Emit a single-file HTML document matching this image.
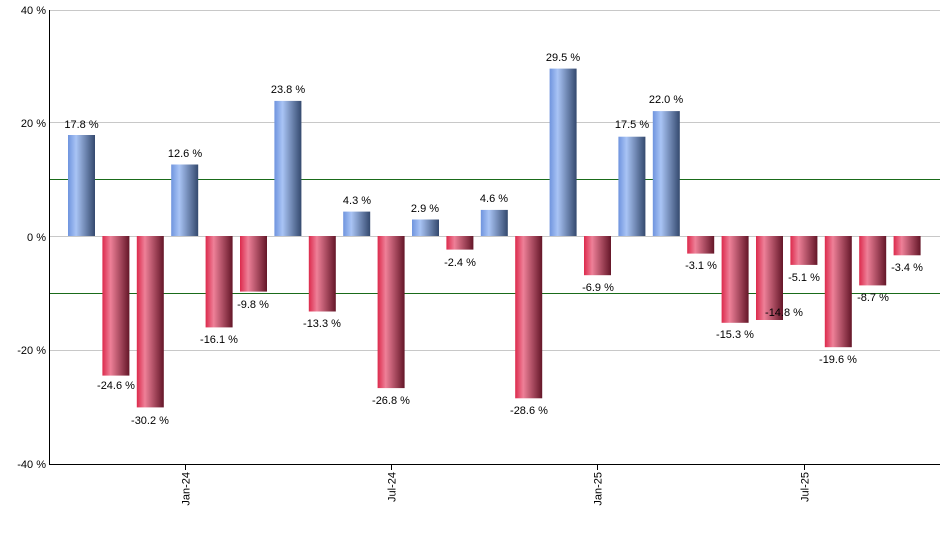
<!DOCTYPE html>
<html><head><meta charset="utf-8"><style>body{margin:0;background:#fff}svg{display:block}text{font-family:"Liberation Sans",sans-serif;font-size:11px;fill:#000}</style></head><body>
<svg width="940" height="550" xmlns="http://www.w3.org/2000/svg">
<defs>
<linearGradient id="b" x1="0" x2="1"><stop offset="0" stop-color="#6f94de"/><stop offset="0.3" stop-color="#a9c4f5"/><stop offset="1" stop-color="#34496e"/></linearGradient>
<linearGradient id="r" x1="0" x2="1"><stop offset="0" stop-color="#dc2a4c"/><stop offset="0.3" stop-color="#ee8098"/><stop offset="1" stop-color="#641628"/></linearGradient>
</defs>
<g stroke="#c8c8c8" stroke-width="1">
<line x1="50" x2="940" y1="10.5" y2="10.5"/><line x1="50" x2="940" y1="122.5" y2="122.5"/><line x1="50" x2="940" y1="236.5" y2="236.5"/><line x1="50" x2="940" y1="350.5" y2="350.5"/>
</g>
<g stroke="#1a6b1a" stroke-width="1"><line x1="50" x2="940" y1="179.5" y2="179.5"/><line x1="50" x2="940" y1="293.5" y2="293.5"/></g>
<g fill="url(#b)">
<rect x="68" y="135" width="27" height="101"/>
<rect x="171.2" y="164.5" width="27" height="71.5"/>
<rect x="274.4" y="100.9" width="27" height="135.1"/>
<rect x="343.2" y="211.6" width="27" height="24.4"/>
<rect x="412" y="219.5" width="27" height="16.5"/>
<rect x="480.8" y="209.9" width="27" height="26.1"/>
<rect x="549.6" y="68.6" width="27" height="167.4"/>
<rect x="618.4" y="136.7" width="27" height="99.3"/>
<rect x="652.8" y="111.1" width="27" height="124.9"/>
</g>
<g fill="url(#r)">
<rect x="102.4" y="236" width="27" height="139.6"/>
<rect x="136.8" y="236" width="27" height="171.4"/>
<rect x="205.6" y="236" width="27" height="91.4"/>
<rect x="240" y="236" width="27" height="55.6"/>
<rect x="308.8" y="236" width="27" height="75.5"/>
<rect x="377.6" y="236" width="27" height="152.1"/>
<rect x="446.4" y="236" width="27" height="13.6"/>
<rect x="515.2" y="236" width="27" height="162.3"/>
<rect x="584" y="236" width="27" height="39.2"/>
<rect x="687.2" y="236" width="27" height="17.6"/>
<rect x="721.6" y="236" width="27" height="86.8"/>
<rect x="756" y="236" width="27" height="84"/>
<rect x="790.4" y="236" width="27" height="28.9"/>
<rect x="824.8" y="236" width="27" height="111.2"/>
<rect x="859.2" y="236" width="27" height="49.4"/>
<rect x="893.6" y="236" width="27" height="19.3"/>
</g>
<g text-anchor="middle">
<text x="81.5" y="128">17.8 %</text>
<text x="116" y="389">-24.6 %</text>
<text x="150" y="424">-30.2 %</text>
<text x="185" y="157">12.6 %</text>
<text x="219" y="343">-16.1 %</text>
<text x="253" y="308">-9.8 %</text>
<text x="288" y="93">23.8 %</text>
<text x="322" y="327">-13.3 %</text>
<text x="357" y="204">4.3 %</text>
<text x="391" y="404">-26.8 %</text>
<text x="425" y="212">2.9 %</text>
<text x="460" y="266">-2.4 %</text>
<text x="494" y="202">4.6 %</text>
<text x="529" y="414">-28.6 %</text>
<text x="563" y="61">29.5 %</text>
<text x="598" y="291">-6.9 %</text>
<text x="632" y="128">17.5 %</text>
<text x="666" y="103">22.0 %</text>
<text x="701" y="269">-3.1 %</text>
<text x="735" y="338">-15.3 %</text>
<text x="784" y="316">-14.8 %</text>
<text x="804" y="281">-5.1 %</text>
<text x="838" y="363">-19.6 %</text>
<text x="873" y="301">-8.7 %</text>
<text x="907" y="271">-3.4 %</text>
</g>
<g stroke="#000" stroke-width="1">
<line x1="49.5" x2="49.5" y1="10" y2="465"/>
<line x1="49" x2="940" y1="464.5" y2="464.5"/>
<line x1="185.5" x2="185.5" y1="464" y2="470"/>
<line x1="391.5" x2="391.5" y1="464" y2="470"/>
<line x1="597.5" x2="597.5" y1="464" y2="470"/>
<line x1="804.5" x2="804.5" y1="464" y2="470"/>
</g>
<g text-anchor="end">
<text x="46" y="14">40 %</text>
<text x="46" y="127">20 %</text>
<text x="46" y="241">0 %</text>
<text x="46" y="354">-20 %</text>
<text x="46" y="468">-40 %</text>
</g>
<g text-anchor="end">
<text transform="translate(189.5,472) rotate(-90)">Jan-24</text>
<text transform="translate(395.5,472) rotate(-90)">Jul-24</text>
<text transform="translate(601.5,472) rotate(-90)">Jan-25</text>
<text transform="translate(808.5,472) rotate(-90)">Jul-25</text>
</g>
</svg>
</body></html>
